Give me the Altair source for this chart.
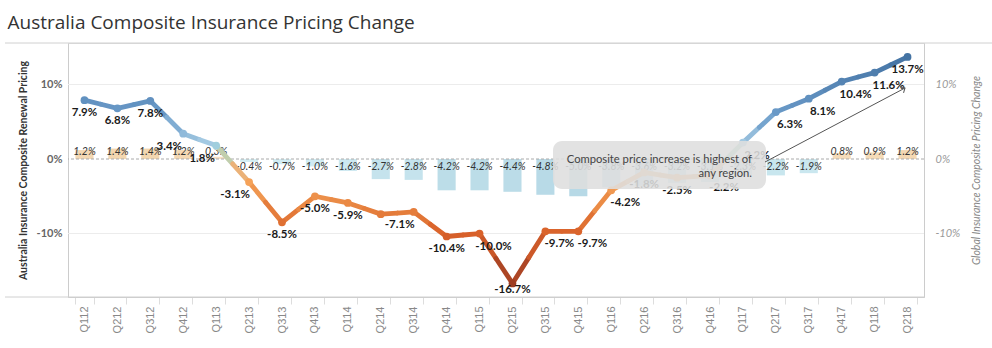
import altair as alt
import pandas as pd

quarters = ["Q112", "Q212", "Q312", "Q412", "Q113", "Q213", "Q313", "Q413",
            "Q114", "Q214", "Q314", "Q414", "Q115", "Q215", "Q315", "Q415",
            "Q116", "Q216", "Q316", "Q416", "Q117", "Q217", "Q317", "Q417",
            "Q118", "Q218"]
australia = [7.9, 6.8, 7.8, 3.4, 1.8, -3.1, -8.5, -5.0, -5.9, -7.4, -7.1, -10.4,
             -10.0, -16.7, -9.7, -9.7, -4.2, -1.8, -2.5, -2.2, 2.2, 6.3, 8.1,
             10.4, 11.6, 13.7]
global_ = [1.2, 1.4, 1.4, 1.2, 0.3, -0.4, -0.7, -1.0, -1.6, -2.7, -2.8, -4.2,
           -4.2, -4.4, -4.8, -5.0, -3.8, -3.6, -3.2, -3.1, -2.3, -2.2, -1.9,
           0.8, 0.9, 1.2]
hidden_labels = ["Q214"]
labels_left = ["Q412", "Q113", "Q213", "Q314"]
labels_right = ["Q115", "Q315", "Q415", "Q116", "Q416", "Q117", "Q217", "Q317",
                "Q417", "Q118"]
y_ticks = [-0.1, 0.0, 0.1]
title = "Australia Composite Insurance Pricing Change"
left_title = "Australia Insurance Composite Renewal Pricing"
right_title = "Global Insurance Composite Pricing Change"
note = ["Composite price increase is highest of", "any region."]

W, H = 856, 254
STEP = W / len(quarters)
FONT = "Lato"

df = pd.DataFrame({
    "q": quarters,
    "a": [v / 100 for v in australia],
    "g": [v / 100 for v in global_],
    "a_lbl": [f"{v:.1f}%" for v in australia],
    "g_lbl": [f"{v:.1f}%" for v in global_],
})
seg = pd.DataFrame({
    "q": quarters[:-1],
    "q2": quarters[1:],
    "a": df["a"].values[:-1],
    "a2": df["a"].values[1:],
})
seg["am"] = (seg["a"] + seg["a2"]) / 2
seg["c1"] = (3 * seg["a"] + seg["a2"]) / 4
seg["c2"] = (seg["a"] + 3 * seg["a2"]) / 4
one = pd.DataFrame({"k": [0]})
grid_df = pd.DataFrame({"v": [-0.1, 0.1]})

ydom = [-0.1852, 0.1557]
xscale = alt.Scale(domain=quarters, paddingInner=0.45, paddingOuter=0.225)
x_axis = alt.Axis(title=None, labelAngle=270, labelColor="#888", labelFontSize=11,
                  labelFont="Liberation Sans", tickBand="extent", tickColor="#ddd",
                  tickSize=7, domainColor="#ccc", labelPadding=2)
X = alt.X("q:N", scale=xscale, axis=x_axis)
lscale = alt.Scale(domain=ydom, nice=False, zero=False)
rscale = alt.Scale(domain=ydom, nice=False, zero=False)
lexpr = "round(datum.value*100) + '%'"
left_axis = alt.Axis(values=y_ticks, labelExpr=lexpr, title=left_title, grid=False,
                     ticks=False, domainColor="#ccc", labelColor="#666",
                     labelFont=FONT, labelFontWeight="bold", labelFontSize=11,
                     labelPadding=6, titleFont=FONT, titleFontSize=10.5,
                     titleFontWeight="bold", titleColor="#333", titlePadding=8)
right_axis = alt.Axis(orient="right", values=y_ticks, labelExpr=lexpr,
                      title=right_title, grid=False, ticks=False, domainColor="#ccc",
                      labelColor="#999", labelFont=FONT, labelFontStyle="italic",
                      labelFontSize=11, labelPadding=11, titleFont=FONT,
                      titleFontSize=10.5, titleFontStyle="italic",
                      titleFontWeight="normal", titleColor="#888", titleAngle=270,
                      titlePadding=22)

acolor = alt.Scale(domain=[-0.167, -0.10, -0.03, 0, 0.02, 0.06, 0.137],
                   range=["#9e3d22", "#d9612a", "#f5a35a", "#dcc7ad", "#a6cbe3",
                          "#6b9bc9", "#4473a3"])
gcolor = alt.Scale(domain=[-0.05, -0.001, 0.001, 0.015],
                   range=["#b7d9e6", "#d6eff5", "#f7e1c6", "#f3d6ae"])

# ---------- right-axis group (global bars) ----------
bars = alt.Chart(df).mark_bar().encode(
    x=X,
    y=alt.Y("g:Q", scale=rscale, axis=right_axis),
    y2=alt.Y2(datum=0),
    color=alt.Color("g:Q", scale=gcolor, legend=None),
)
pos_lbl = alt.Chart(df).transform_filter("datum.g >= 0").mark_text(
    font=FONT, fontStyle="italic", fontSize=10.5, color="#333", dy=-7
).encode(x=X, y=alt.Y(datum=0, scale=rscale), text="g_lbl:N")
neg_lbl = alt.Chart(df).transform_filter("datum.g < 0").mark_text(
    font=FONT, fontStyle="italic", fontSize=10.5, color="#333", dy=8
).encode(x=X, y=alt.Y(datum=0, scale=rscale), text="g_lbl:N")
right_group = alt.layer(bars, pos_lbl, neg_lbl)

# ---------- left-axis group (Australia line) ----------
LY = alt.Y("a:Q", scale=lscale, axis=left_axis)
grid = alt.Chart(grid_df).mark_rule(color="#ececec", strokeWidth=1).encode(
    y=alt.Y("v:Q", scale=lscale, axis=left_axis))
zero = alt.Chart(one).mark_rule(color="#aaa", strokeDash=[3, 2], strokeWidth=1).encode(
    y=alt.Y(datum=0, scale=lscale, axis=left_axis))
half1 = alt.Chart(seg).mark_rule(strokeWidth=4.8, strokeCap="round",
                                 x2Offset=-STEP / 2).encode(
    x=X, x2="q2:N", y=LY, y2="am:Q",
    color=alt.Color("c1:Q", scale=acolor, legend=None))
half2 = alt.Chart(seg).mark_rule(strokeWidth=4.8, strokeCap="round",
                                 xOffset=STEP / 2).encode(
    x=X, x2="q2:N", y=alt.Y("am:Q", scale=lscale, axis=left_axis), y2="a2:Q",
    color=alt.Color("c2:Q", scale=acolor, legend=None))
pts = alt.Chart(df).mark_circle(size=60, opacity=1).encode(
    x=X, y=LY, color=alt.Color("a:Q", scale=acolor, legend=None))


def label_layer(pred, dx):
    return alt.Chart(df).transform_filter(pred).transform_calculate(
        ly="max(datum.a, -0.158)").mark_text(
        font=FONT, fontWeight="bold", fontSize=11.5, color="#1a1a1a", dy=13, dx=dx
    ).encode(x=X, y=alt.Y("ly:Q", scale=lscale, axis=left_axis), text="a_lbl:N")


in_left = alt.FieldOneOfPredicate(field="q", oneOf=labels_left)
in_right = alt.FieldOneOfPredicate(field="q", oneOf=labels_right)
in_hidden = alt.FieldOneOfPredicate(field="q", oneOf=hidden_labels)
lbl_l = label_layer(in_left, -14)
lbl_r = label_layer(in_right, 14)
lbl_c = label_layer(~in_left & ~in_right & ~in_hidden, 0)

box = alt.Chart(one).mark_rect(cornerRadius=9, fill="#dedede", fillOpacity=0.88).encode(
    x=alt.value(485), x2=alt.value(698), y=alt.value(98), y2=alt.value(146))
note_txt = alt.Chart(one).mark_text(
    text=note, align="right", baseline="middle", lineHeight=13.5, font=FONT,
    fontSize=11.2, color="#444").encode(x=alt.value(684), y=alt.value(117))
arrow = alt.Chart(one).mark_rule(color="#555", strokeWidth=1).encode(
    x=alt.value(697), y=alt.value(119), x2=alt.value(837), y2=alt.value(45))
head = alt.Chart(one).mark_point(shape="M-1,1L0,0L1,1", filled=False, angle=62,
                                 size=50, strokeWidth=1, color="#555",
                                 opacity=1).encode(
    x=alt.value(837), y=alt.value(45))
top_line = alt.Chart(one).mark_rule(color="#d0d0d0").encode(
    x=alt.value(-63), x2=alt.value(924), y=alt.value(0))
bottom_line = alt.Chart(one).mark_rule(color="#d0d0d0").encode(
    x=alt.value(-63), x2=alt.value(W), y=alt.value(H))

left_group = alt.layer(grid, zero, half1, half2, pts, lbl_l, lbl_r, lbl_c, box,
                       note_txt, arrow, head, top_line, bottom_line)

chart = alt.layer(right_group, left_group).resolve_scale(
    y="independent", color="independent"
).properties(
    width=W, height=H, autosize="none",
    padding={"left": 68, "top": 43, "right": 992 - 68 - W, "bottom": 348 - 43 - H},
    title=alt.TitleParams(title, anchor="start", dx=3, fontSize=19,
                          font="Open Sans", fontWeight="normal", color="#333",
                          offset=10),
).configure_view(strokeWidth=0).configure(background="white")

chart.save("out.html", embed_options={"renderer": "svg", "actions": False})
